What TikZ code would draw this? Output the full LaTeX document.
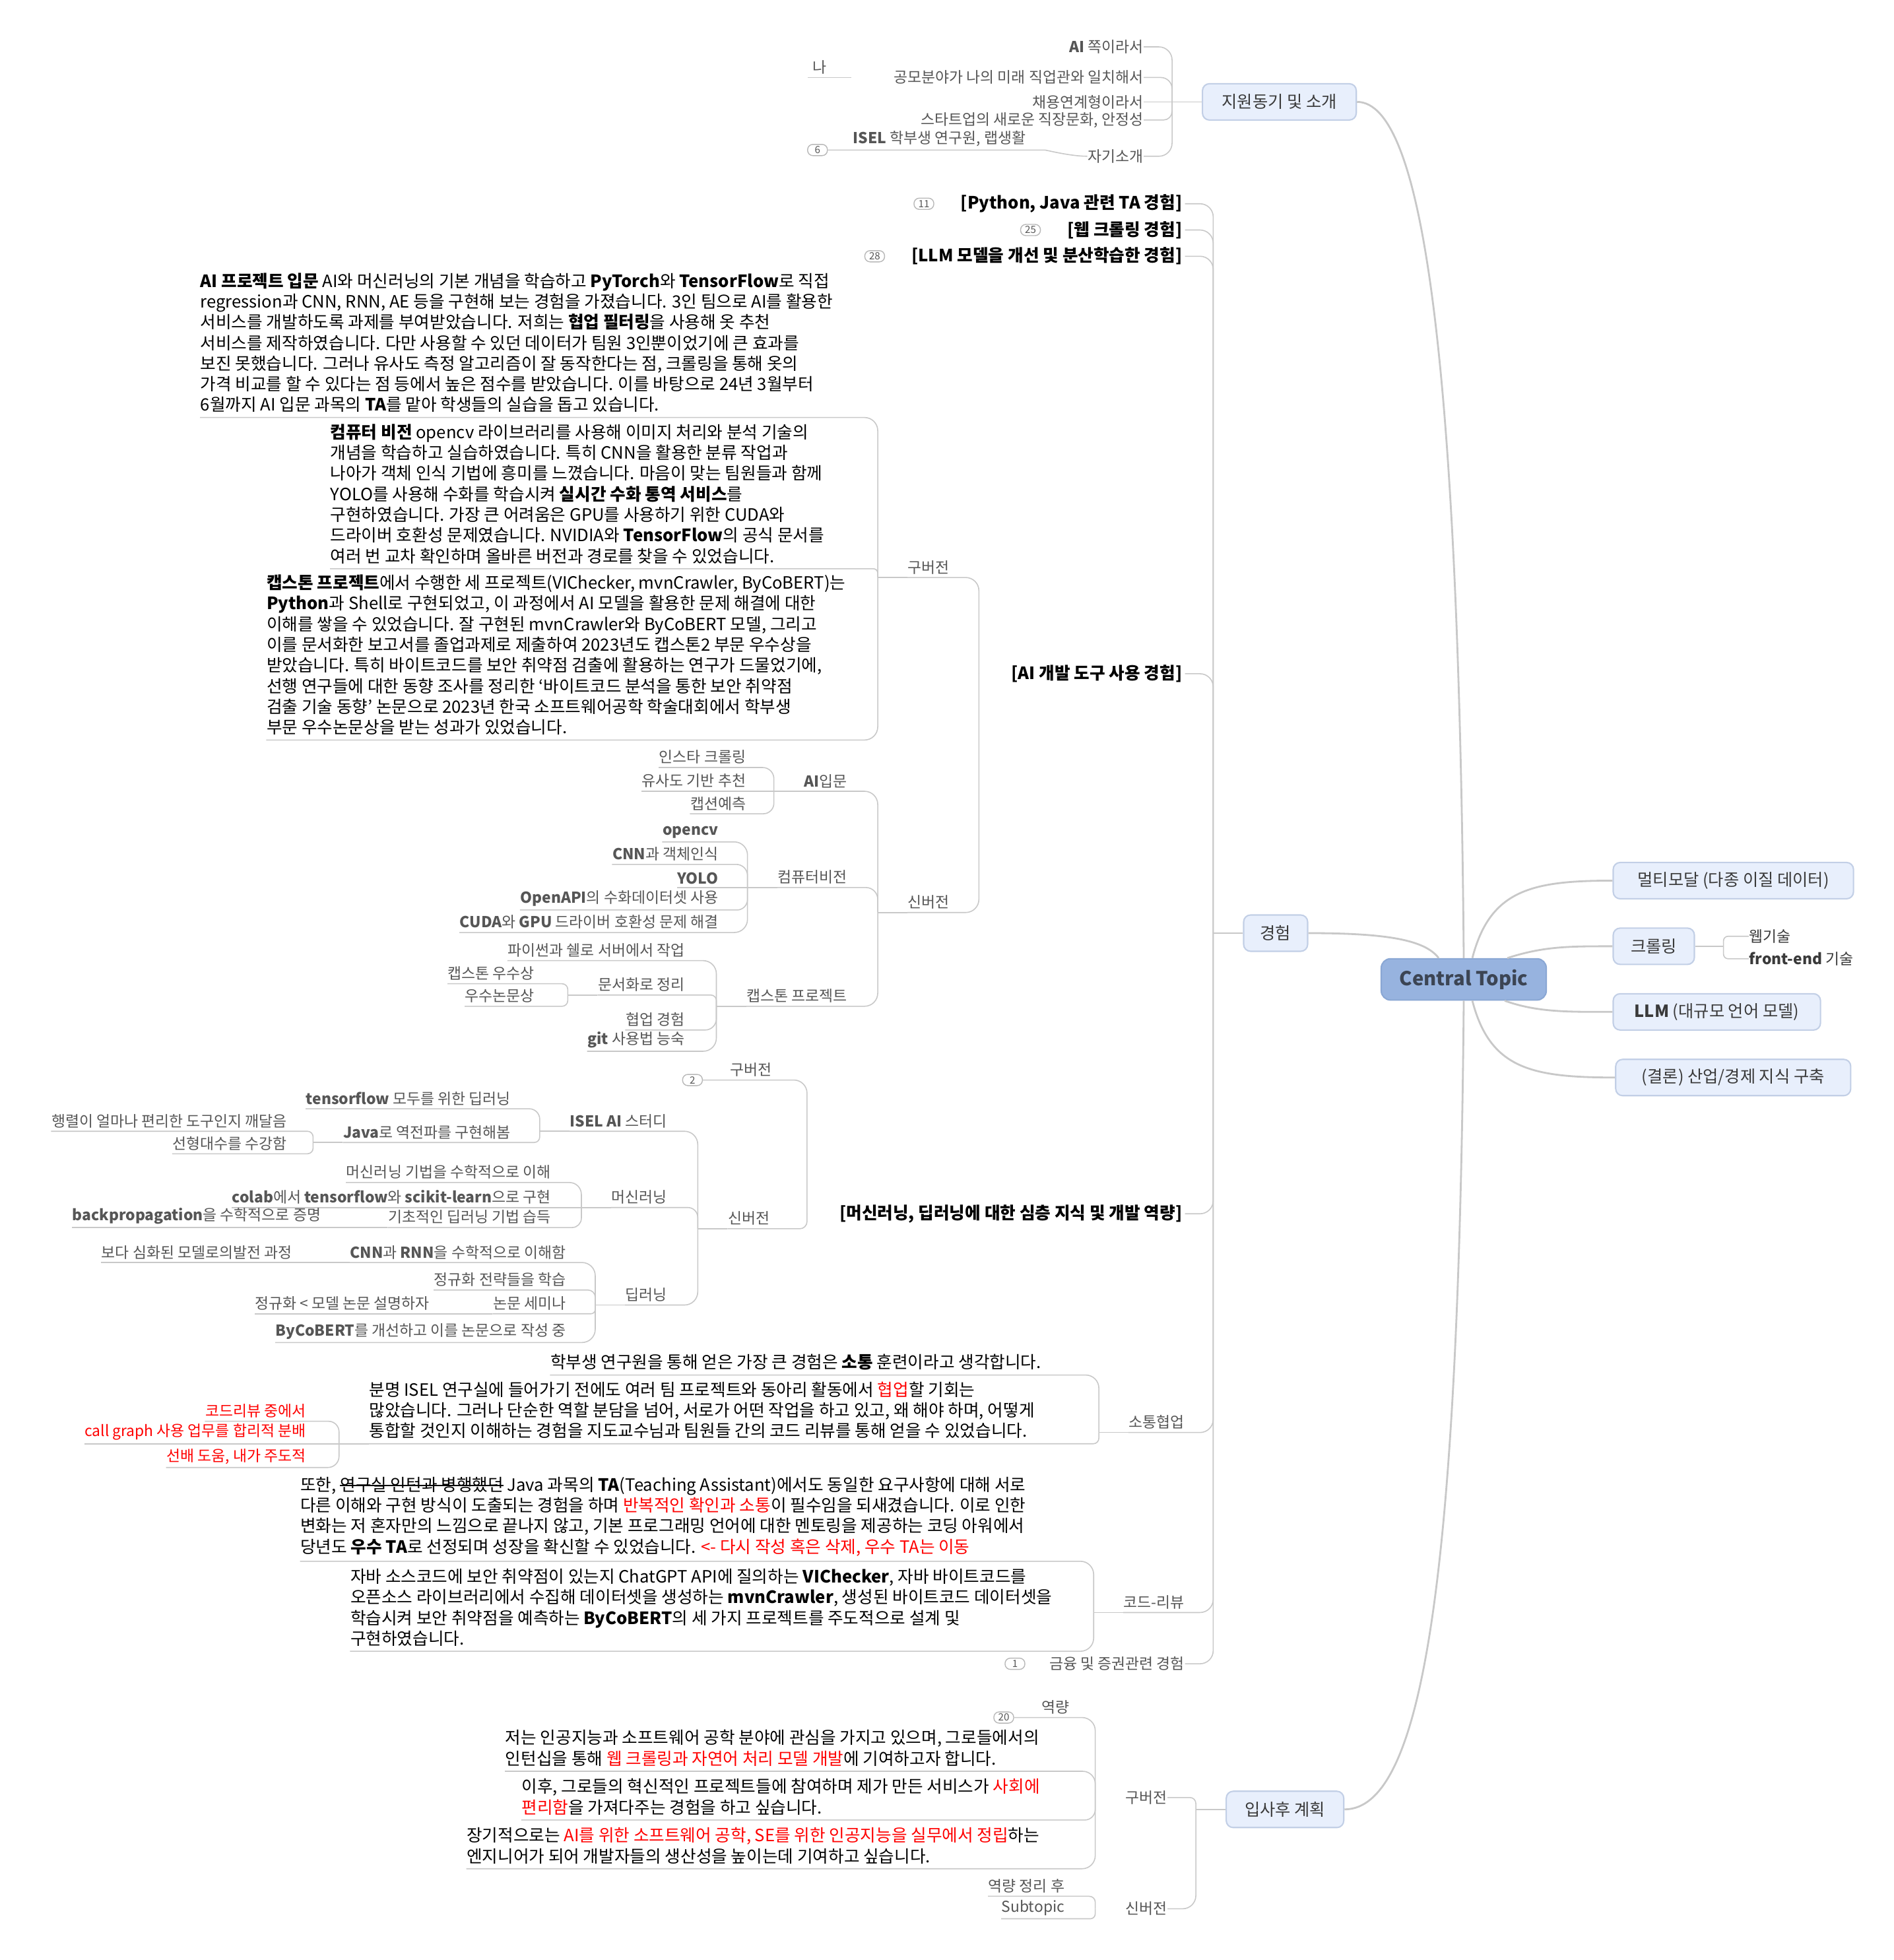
\documentclass[tikz,border=0pt]{standalone}
\usepackage{fontspec}
\setmainfont{Noto Sans CJK KR}
\usetikzlibrary{positioning}

\definecolor{linegray}{HTML}{C8C8C8}
\definecolor{boxfill}{HTML}{E8EFFC}
\definecolor{boxline}{HTML}{C2CFE6}
\definecolor{boxtext}{HTML}{3A3A3A}
\definecolor{ctfill}{HTML}{97B3DF}
\definecolor{ctline}{HTML}{8AA7D4}
\definecolor{cttext}{HTML}{3C4554}
\definecolor{subgray}{HTML}{565656}
\definecolor{markred}{HTML}{FF0000}
\definecolor{badgeline}{HTML}{B8B8B8}

\newcommand\redtxt[1]{\textcolor{markred}{#1}}
\newsavebox\strkbox
\newcommand\strk[1]{\sbox\strkbox{#1}\rlap{\rule[0.3em]{\wd\strkbox}{0.45pt}}\usebox\strkbox}

\begin{document}
\begin{tikzpicture}[x=0.018937cm, y=-0.018937cm,
  topicbox/.style={draw=boxline, fill=boxfill, line width=0.6pt, rounded corners=3pt,
    minimum height=0.55cm, inner xsep=2pt, text=boxtext, font=\fontsize{7.2}{8.6}\selectfont},
  centerbox/.style={draw=ctline, fill=ctfill, line width=0.6pt, rounded corners=4pt,
    minimum width=2.5cm, minimum height=0.625cm, text=cttext, font=\bfseries\fontsize{8.3}{9.5}\selectfont},
  headtext/.style={inner xsep=1pt, inner ysep=0pt, text=black, font=\bfseries\fontsize{7.3}{8.7}\selectfont},
  subtext/.style={inner xsep=0pt, inner ysep=1.3pt, text=subgray, font=\fontsize{6.5}{7.6}\selectfont},
  paratext/.style={inner xsep=0pt, inner ysep=2pt, align=left, text=black, font=\fontsize{7.3}{8.9}\selectfont},
  countbadge/.style={draw=badgeline, fill=white, line width=0.4pt, rounded corners=0.08cm, inner sep=0pt,
    minimum width=0.3cm, minimum height=0.17cm, text=subgray, font=\fontsize{4.3}{5}\selectfont},
  conn/.style={draw=linegray, line width=0.45pt, rounded corners=#1}, conn/.default=0.2cm,
  mainconn/.style={draw=linegray, line width=0.8pt}
]
\fill[white] (0,0) rectangle (1515,1568);
\useasboundingbox (0,0) rectangle (1515,1568);

% central topic and main branches
\node[centerbox] (ct) at (1171,783.5) {Central Topic};
\node[topicbox, minimum width=2.33cm] (jy) at (1023.5,81.5) {지원동기 및 소개};
\node[topicbox, minimum width=0.97cm] (gh) at (1020.5,746.5) {경험};
\node[topicbox, minimum width=1.78cm] (ip) at (1028,1447.5) {입사후 계획};
\node[topicbox, minimum width=3.64cm, anchor=west] (rt1) at (1290,704.5) {멀티모달 (다종 이질 데이터)};
\node[topicbox, minimum width=1.23cm, anchor=west] (rt2) at (1290,757) {크롤링};
\node[topicbox, minimum width=3.14cm, anchor=west] (rt3) at (1290,809.5) {\textbf{LLM} (대규모 언어 모델)};
\node[topicbox, minimum width=3.56cm, anchor=west] (rt4) at (1292,862) {(결론) 산업/경제 지식 구축};

\draw[mainconn] (ct.north) .. controls (1167,300) and (1140,81.5) .. (jy.east);
\draw[mainconn] ([xshift=-0.38cm]ct.north) .. controls (1140,752) and (1110,746.5) .. (gh.east);
\draw[mainconn] (ct.south) .. controls (1167,1250) and (1140,1447.5) .. (ip.east);
\draw[mainconn] ([xshift=0.13cm]ct.north) .. controls (1192,712) and (1225,704.5) .. (rt1.west);
\draw[mainconn] ([xshift=0.66cm]ct.north) .. controls (1235,757) and (1255,757) .. (rt2.west);
\draw[mainconn] ([xshift=0.62cm]ct.south) .. controls (1230,810) and (1255,809.5) .. (rt3.west);
\draw[mainconn] ([xshift=0.13cm]ct.south) .. controls (1192,855) and (1225,862) .. (rt4.west);

% crawling
\node[subtext, anchor=west, text=boxtext] (web) at (1399,749) {웹기술};
\node[subtext, anchor=west, text=boxtext] (fend) at (1399,767) {\textbf{front-end} 기술};
\coordinate (rt2hub) at ([xshift=0.43cm]rt2.east);
\draw[conn] (rt2.east) -- (rt2hub);
\draw[conn=0.07cm] (rt2hub) |- (web.west);
\draw[conn=0.07cm] (rt2hub) |- (fend.west);

% motivation
\coordinate (jyhub) at ([xshift=-0.45cm]jy.west);
\draw[conn] (jy.west) -- (jyhub);
\node[subtext, anchor=east] (jy1) at (915,37.5) {\textbf{AI} 쪽이라서};
\node[subtext, anchor=east] (jy2) at (915,62) {공모분야가 나의 미래 직업관와 일치해서};
\node[subtext, anchor=east] (jy3) at (915,81.5) {채용연계형이라서};
\node[subtext, anchor=east] (jy4) at (915,96) {스타트업의 새로운 직장문화, 안정성};
\node[subtext, anchor=east] (jy5) at (915,125) {자기소개};
\draw[conn] (jyhub) |- (jy1.east);
\draw[conn=0.17cm] (jyhub) |- (jy2.east);
\draw[conn] (jyhub) -- (jy3.east);
\draw[conn=0.13cm] (jyhub) |- (jy4.east);
\draw[conn] (jyhub) |- (jy5.east);
\node[subtext, anchor=south west] (na) at (650,62) {나};
\draw[conn] ([xshift=-2pt]na.south west) -- ++(35,0);
\node[subtext, anchor=south west] (isel) at (682,120) {\textbf{ISEL} 학부생 연구원, 랩생활};
\node[countbadge] (b6) at (654,120) {6};
\draw[conn] (jy5.west) .. controls +(-14,0) and +(12,0) .. ([xshift=0.08cm]isel.south east) -- (b6.east);

% experience
\coordinate (ghhub) at ([xshift=-0.45cm]gh.west);
\draw[conn] (gh.west) -- (ghhub);
\node[headtext, anchor=east] (g1) at (948,163) {[Python, Java 관련 TA 경험]};
\node[headtext, anchor=east] (g2) at (948,184) {[웹 크롤링 경험]};
\node[headtext, anchor=east] (g3) at (948,205) {[LLM 모델을 개선 및 분산학습한 경험]};
\node[headtext, anchor=east] (g4) at (948,539) {[AI 개발 도구 사용 경험]};
\node[headtext, anchor=east] (g5) at (948,971) {[머신러닝, 딥러닝에 대한 심층 지식 및 개발 역량]};
\node[subtext, anchor=south east] (g6) at (948,1146) {소통협업};
\node[subtext, anchor=south east] (g7) at (948,1290) {코드-리뷰};
\node[subtext, anchor=east] (g8) at (948,1331) {금융 및 증권관련 경험};
\node[countbadge, left=0.36cm of g1] (b11) {11};
\node[countbadge, left=0.36cm of g2] (b25) {25};
\node[countbadge, left=0.36cm of g3] (b28) {28};
\node[countbadge, left=0.36cm of g8] (b1) {1};
\draw[conn] (ghhub) |- (g1.east);
\draw[conn] (ghhub) |- (g2.east);
\draw[conn] (ghhub) |- (g3.east);
\draw[conn] (ghhub) |- (g4.east);
\draw[conn] (ghhub) |- (g5.east);
\draw[conn] (ghhub) |- (g6.south west);
\draw[conn] (ghhub) |- (g7.south west);
\draw[conn] (ghhub) |- (g8.east);

% AI tools: old version
\coordinate (g4hub) at ([xshift=-0.45cm]g4.west);
\node[subtext, anchor=south east] (gu1) at (760,462) {구버전};
\node[subtext, anchor=south east] (sn1) at (760,730) {신버전};
\draw[conn] (g4hub) |- (gu1.south west);
\draw[conn] (g4hub) |- (sn1.south west);
\coordinate (gu1hub) at ([xshift=-0.45cm]gu1.south west);
\coordinate (sn1hub) at ([xshift=-0.45cm]sn1.south west);
\draw[conn] (gu1.south west) -- (gu1hub);
\draw[conn] (sn1.south west) -- (sn1hub);

\node[paratext, anchor=south west] (p1) at (160,334) {\textbf{AI 프로젝트 입문} AI와 머신러닝의 기본 개념을 학습하고 \textbf{PyTorch}와 \textbf{TensorFlow}로 직접\\
regression과 CNN, RNN, AE 등을 구현해 보는 경험을 가졌습니다. 3인 팀으로 AI를 활용한\\
서비스를 개발하도록 과제를 부여받았습니다. 저희는 \textbf{협업 필터링}을 사용해 옷 추천\\
서비스를 제작하였습니다. 다만 사용할 수 있던 데이터가 팀원 3인뿐이었기에 큰 효과를\\
보진 못했습니다. 그러나 유사도 측정 알고리즘이 잘 동작한다는 점, 크롤링을 통해 옷의\\
가격 비교를 할 수 있다는 점 등에서 높은 점수를 받았습니다. 이를 바탕으로 24년 3월부터\\
6월까지 AI 입문 과목의 \textbf{TA}를 맡아 학생들의 실습을 돕고 있습니다.};
\node[paratext, anchor=south west] (p2) at (264,455) {\textbf{컴퓨터 비전} opencv 라이브러리를 사용해 이미지 처리와 분석 기술의\\
개념을 학습하고 실습하였습니다. 특히 CNN을 활용한 분류 작업과\\
나아가 객체 인식 기법에 흥미를 느꼈습니다. 마음이 맞는 팀원들과 함께\\
YOLO를 사용해 수화를 학습시켜 \textbf{실시간 수화 통역 서비스}를\\
구현하였습니다. 가장 큰 어려움은 GPU를 사용하기 위한 CUDA와\\
드라이버 호환성 문제였습니다. NVIDIA와 \textbf{TensorFlow}의 공식 문서를\\
여러 번 교차 확인하며 올바른 버전과 경로를 찾을 수 있었습니다.};
\node[paratext, anchor=south west] (p3) at (213,592) {\textbf{캡스톤 프로젝트}에서 수행한 세 프로젝트(VIChecker, mvnCrawler, ByCoBERT)는\\
\textbf{Python}과 Shell로 구현되었고, 이 과정에서 AI 모델을 활용한 문제 해결에 대한\\
이해를 쌓을 수 있었습니다. 잘 구현된 mvnCrawler와 ByCoBERT 모델, 그리고\\
이를 문서화한 보고서를 졸업과제로 제출하여 2023년도 캡스톤2 부문 우수상을\\
받았습니다. 특히 바이트코드를 보안 취약점 검출에 활용하는 연구가 드물었기에,\\
선행 연구들에 대한 동향 조사를 정리한 ‘바이트코드 분석을 통한 보안 취약점\\
검출 기술 동향’ 논문으로 2023년 한국 소프트웨어공학 학술대회에서 학부생\\
부문 우수논문상을 받는 성과가 있었습니다.};
\draw[conn] (gu1hub) |- (p1.south west);
\draw[conn=0.065cm] (gu1hub) |- (p2.south west);
\draw[conn] (gu1hub) |- (p3.south west);

% AI tools: new version
\node[subtext, anchor=south east] (ai1) at (678,633) {\textbf{AI}입문};
\node[subtext, anchor=south east] (cv) at (678,710) {컴퓨터비전};
\node[subtext, anchor=south east] (cap) at (678,805) {캡스톤 프로젝트};
\draw[conn] (sn1hub) |- (ai1.south west);
\draw[conn=0.18cm] (sn1hub) |- (cv.south west);
\draw[conn] (sn1hub) |- (cap.south west);
\coordinate (ai1hub) at ([xshift=-0.45cm]ai1.south west);
\coordinate (cvhub) at ([xshift=-0.45cm]cv.south west);
\coordinate (caphub) at ([xshift=-0.45cm]cap.south west);
\draw[conn] (ai1.south west) -- (ai1hub);
\draw[conn] (cv.south west) -- (cvhub);
\draw[conn] (cap.south west) -- (caphub);

\node[subtext, anchor=south east] (ai1a) at (597,614) {인스타 크롤링};
\node[subtext, anchor=south east] (ai1b) at (597,633) {유사도 기반 추천};
\node[subtext, anchor=south east] (ai1c) at (597,651) {캡션예측};
\draw[conn=0.17cm] (ai1hub) |- (ai1a.south west);
\draw[conn] (ai1hub) -- (ai1b.south west);
\draw[conn=0.16cm] (ai1hub) |- (ai1c.south west);

\node[subtext, anchor=south east] (cv1) at (575,673.5) {\textbf{opencv}};
\node[subtext, anchor=south east] (cv2) at (575,691.5) {\textbf{CNN}과 객체인식};
\node[subtext, anchor=south east] (cv3) at (575,710) {\textbf{YOLO}};
\node[subtext, anchor=south east] (cv4) at (575,728) {\textbf{OpenAPI}의 수화데이터셋 사용};
\node[subtext, anchor=south east] (cv5) at (575,746) {\textbf{CUDA}와 \textbf{GPU} 드라이버 호환성 문제 해결};
\draw[conn] (cvhub) |- (cv1.south west);
\draw[conn=0.17cm] (cvhub) |- (cv2.south west);
\draw[conn] (cvhub) -- (cv3.south west);
\draw[conn=0.16cm] (cvhub) |- (cv4.south west);
\draw[conn] (cvhub) |- (cv5.south west);

\node[subtext, anchor=south east] (cap1) at (548,768.5) {파이썬과 쉘로 서버에서 작업};
\node[subtext, anchor=south east] (cap2) at (548,796) {문서화로 정리};
\node[subtext, anchor=south east] (cap3) at (548,824) {협업 경험};
\node[subtext, anchor=south east] (cap4) at (548,841) {\textbf{git} 사용법 능숙};
\draw[conn] (caphub) |- (cap1.south west);
\draw[conn=0.085cm] (caphub) |- (cap2.south west);
\draw[conn=0.17cm] (caphub) |- (cap3.south west);
\draw[conn] (caphub) |- (cap4.south west);
\coordinate (cap2hub) at ([xshift=-0.45cm]cap2.south west);
\draw[conn] (cap2.south west) -- (cap2hub);
\node[subtext, anchor=south east] (cap2a) at (428,787) {캡스톤 우수상};
\node[subtext, anchor=south east] (cap2b) at (428,805) {우수논문상};
\draw[conn=0.085cm] (cap2hub) |- (cap2a.south west);
\draw[conn=0.085cm] (cap2hub) |- (cap2b.south west);

% machine learning / deep learning
\coordinate (g5hub) at ([xshift=-0.45cm]g5.west);
\node[countbadge] (b2) at (554,864) {2};
\node[subtext, anchor=south west] (mlold) at (584,864) {구버전};
\node[subtext, anchor=south east] (mlnew) at (616,983) {신버전};
\draw[conn] (g5hub) |- (b2.east);
\draw[conn=0.11cm] (g5hub) |- (mlnew.south west);
\coordinate (mlnewhub) at ([xshift=-0.45cm]mlnew.south west);
\draw[conn] (mlnew.south west) -- (mlnewhub);

\node[subtext, anchor=south east] (isl) at (534,905) {\textbf{ISEL AI} 스터디};
\node[subtext, anchor=south east] (mln) at (534,966) {머신러닝};
\node[subtext, anchor=south east] (dpl) at (534,1044) {딥러닝};
\draw[conn] (mlnewhub) |- (isl.south west);
\draw[conn=0.15cm] (mlnewhub) |- (mln.south west);
\draw[conn] (mlnewhub) |- (dpl.south west);
\coordinate (islhub) at ([xshift=-0.45cm]isl.south west);
\coordinate (mlnhub) at ([xshift=-0.45cm]mln.south west);
\coordinate (dplhub) at ([xshift=-0.45cm]dpl.south west);
\draw[conn] (isl.south west) -- (islhub);
\draw[conn] (mln.south west) -- (mlnhub);
\draw[conn] (dpl.south west) -- (dplhub);

\node[subtext, anchor=south east] (isl1) at (409,887) {\textbf{tensorflow} 모두를 위한 딥러닝};
\node[subtext, anchor=south east] (isl2) at (409,914) {\textbf{Java}로 역전파를 구현해봄};
\draw[conn=0.16cm] (islhub) |- (isl1.south west);
\draw[conn=0.085cm] (islhub) |- (isl2.south west);
\coordinate (isl2hub) at ([xshift=-0.45cm]isl2.south west);
\draw[conn] (isl2.south west) -- (isl2hub);
\node[subtext, anchor=south east] (isl2a) at (230,905) {행렬이 얼마나 편리한 도구인지 깨달음};
\node[subtext, anchor=south east] (isl2b) at (230,923) {선형대수를 수강함};
\draw[conn=0.085cm] (isl2hub) |- (isl2a.south west);
\draw[conn=0.085cm] (isl2hub) |- (isl2b.south west);

\node[subtext, anchor=south east] (mln1) at (441,946) {머신러닝 기법을 수학적으로 이해};
\node[subtext, anchor=south east] (mln2) at (441,966) {\textbf{colab}에서 \textbf{tensorflow}와 \textbf{scikit-learn}으로 구현};
\node[subtext, anchor=south east] (mln3) at (441,982) {기초적인 딥러닝 기법 습득};
\draw[conn=0.18cm] (mlnhub) |- (mln1.south west);
\draw[conn] (mlnhub) -- (mln2.south west);
\draw[conn=0.14cm] (mlnhub) |- (mln3.south west);
\coordinate (mln3hub) at ([xshift=-0.45cm]mln3.south west);
\node[subtext, anchor=south east] (mln3a) at (257,982) {\textbf{backpropagation}을 수학적으로 증명};
\draw[conn] (mln3.south west) -- (mln3hub) -- (mln3a.south west);

\node[subtext, anchor=south east] (dpl1) at (453,1010) {\textbf{CNN}과 \textbf{RNN}을 수학적으로 이해함};
\node[subtext, anchor=south east] (dpl2) at (453,1032) {정규화 전략들을 학습};
\node[subtext, anchor=south east] (dpl3) at (453,1051) {논문 세미나};
\node[subtext, anchor=south east] (dpl4) at (453,1074) {\textbf{ByCoBERT}를 개선하고 이를 논문으로 작성 중};
\draw[conn] (dplhub) |- (dpl1.south west);
\draw[conn=0.11cm] (dplhub) |- (dpl2.south west);
\draw[conn=0.065cm] (dplhub) |- (dpl3.south west);
\draw[conn] (dplhub) |- (dpl4.south west);
\coordinate (dpl1hub) at ([xshift=-0.45cm]dpl1.south west);
\coordinate (dpl3hub) at ([xshift=-0.45cm]dpl3.south west);
\node[subtext, anchor=south east] (dpl1a) at (234,1010) {보다 심화된 모델로의발전 과정};
\node[subtext, anchor=south east] (dpl3a) at (344,1051) {정규화 < 모델 논문 설명하자};
\draw[conn] (dpl1.south west) -- (dpl1hub) -- (dpl1a.south west);
\draw[conn] (dpl3.south west) -- (dpl3hub) -- (dpl3a.south west);

% communication
\coordinate (g6hub) at ([xshift=-0.45cm]g6.south west);
\draw[conn] (g6.south west) -- (g6hub);
\node[paratext, anchor=south west] (s1) at (440,1100) {학부생 연구원을 통해 얻은 가장 큰 경험은 \textbf{소통} 훈련이라고 생각합니다.};
\node[paratext, anchor=south west] (s2) at (295,1155) {분명 ISEL 연구실에 들어가기 전에도 여러 팀 프로젝트와 동아리 활동에서 \redtxt{협업}할 기회는\\
많았습니다. 그러나 단순한 역할 분담을 넘어, 서로가 어떤 작업을 하고 있고, 왜 해야 하며, 어떻게\\
통합할 것인지 이해하는 경험을 지도교수님과 팀원들 간의 코드 리뷰를 통해 얻을 수 있었습니다.};
\draw[conn] (g6hub) |- (s1.south west);
\draw[conn=0.085cm] (g6hub) |- (s2.south west);
\coordinate (s2hub) at ([xshift=-0.45cm]s2.south west);
\node[subtext, text=markred, anchor=south east] (s2a) at (245,1137) {코드리뷰 중에서};
\node[subtext, text=markred, anchor=south east] (s2b) at (245,1155) {call graph 사용 업무를 합리적 분배};
\node[subtext, text=markred, anchor=south east] (s2c) at (245,1174) {선배 도움, 내가 주도적};
\draw[conn] (s2.south west) -- (s2hub);
\draw[conn=0.16cm] (s2hub) |- (s2a.south west);
\draw[conn] (s2hub) -- (s2b.south west);
\draw[conn=0.17cm] (s2hub) |- (s2c.south west);

% code review
\coordinate (g7hub) at ([xshift=-0.45cm]g7.south west);
\draw[conn] (g7.south west) -- (g7hub);
\node[paratext, anchor=south west] (c1) at (240,1249) {또한, \strk{연구실 인턴과 병행했던} Java 과목의 \textbf{TA}(Teaching Assistant)에서도 동일한 요구사항에 대해 서로\\
다른 이해와 구현 방식이 도출되는 경험을 하며 \redtxt{반복적인 확인과 소통}이 필수임을 되새겼습니다. 이로 인한\\
변화는 저 혼자만의 느낌으로 끝나지 않고, 기본 프로그래밍 언어에 대한 멘토링을 제공하는 코딩 아워에서\\
당년도 \textbf{우수 TA}로 선정되며 성장을 확신할 수 있었습니다. \redtxt{<- 다시 작성 혹은 삭제, 우수 TA는 이동}};
\node[paratext, anchor=south west] (c2) at (280,1321) {자바 소스코드에 보안 취약점이 있는지 ChatGPT API에 질의하는 \textbf{VIChecker}, 자바 바이트코드를\\
오픈소스 라이브러리에서 수집해 데이터셋을 생성하는 \textbf{mvnCrawler}, 생성된 바이트코드 데이터셋을\\
학습시켜 보안 취약점을 예측하는 \textbf{ByCoBERT}의 세 가지 프로젝트를 주도적으로 설계 및\\
구현하였습니다.};
\draw[conn] (g7hub) |- (c1.south west);
\draw[conn] (g7hub) |- (c2.south west);

% plans after joining
\coordinate (iphub) at ([xshift=-0.45cm]ip.west);
\draw[conn] (ip.west) -- (iphub);
\node[subtext, anchor=east] (ipold) at (934,1438) {구버전};
\node[subtext, anchor=east] (ipnew) at (934,1527) {신버전};
\draw[conn=0.09cm] (iphub) |- (ipold.east);
\draw[conn] (iphub) |- (ipnew.east);
\coordinate (ipoldhub) at ([xshift=-0.45cm]ipold.west);
\coordinate (ipnewhub) at ([xshift=-0.45cm]ipnew.west);

\node[countbadge] (b20) at (803,1374) {20};
\node[subtext, anchor=south west] (cap20) at (833,1374) {역량};
\node[paratext, anchor=south west] (r1) at (404,1417) {저는 인공지능과 소프트웨어 공학 분야에 관심을 가지고 있으며, 그로들에서의\\
인턴십을 통해 \redtxt{웹 크롤링과 자연어 처리 모델 개발}에 기여하고자 합니다.};
\node[paratext, anchor=south west] (r2) at (417,1456) {이후, 그로들의 혁신적인 프로젝트들에 참여하며 제가 만든 서비스가 \redtxt{사회에}\\
\redtxt{편리함}을 가져다주는 경험을 하고 싶습니다.};
\node[paratext, anchor=south west] (r3) at (373,1495) {장기적으로는 \redtxt{AI를 위한 소프트웨어 공학, SE를 위한 인공지능을 실무에서 정립}하는\\
엔지니어가 되어 개발자들의 생산성을 높이는데 기여하고 싶습니다.};
\draw[conn] (ipoldhub) |- (b20.east);
\draw[conn=0.19cm] (ipoldhub) |- (r1.south west);
\draw[conn=0.16cm] (ipoldhub) |- (r2.south west);
\draw[conn] (ipoldhub) |- (r3.south west);

\node[subtext, anchor=south east] (ipn1) at (852,1517) {역량 정리 후};
\node[subtext, anchor=south east] (ipn2) at (852,1535) {Subtopic};
\draw[conn=0.09cm] (ipnewhub) |- (ipn1.south west);
\draw[conn=0.075cm] (ipnewhub) |- (ipn2.south west);
\end{tikzpicture}
\end{document}
